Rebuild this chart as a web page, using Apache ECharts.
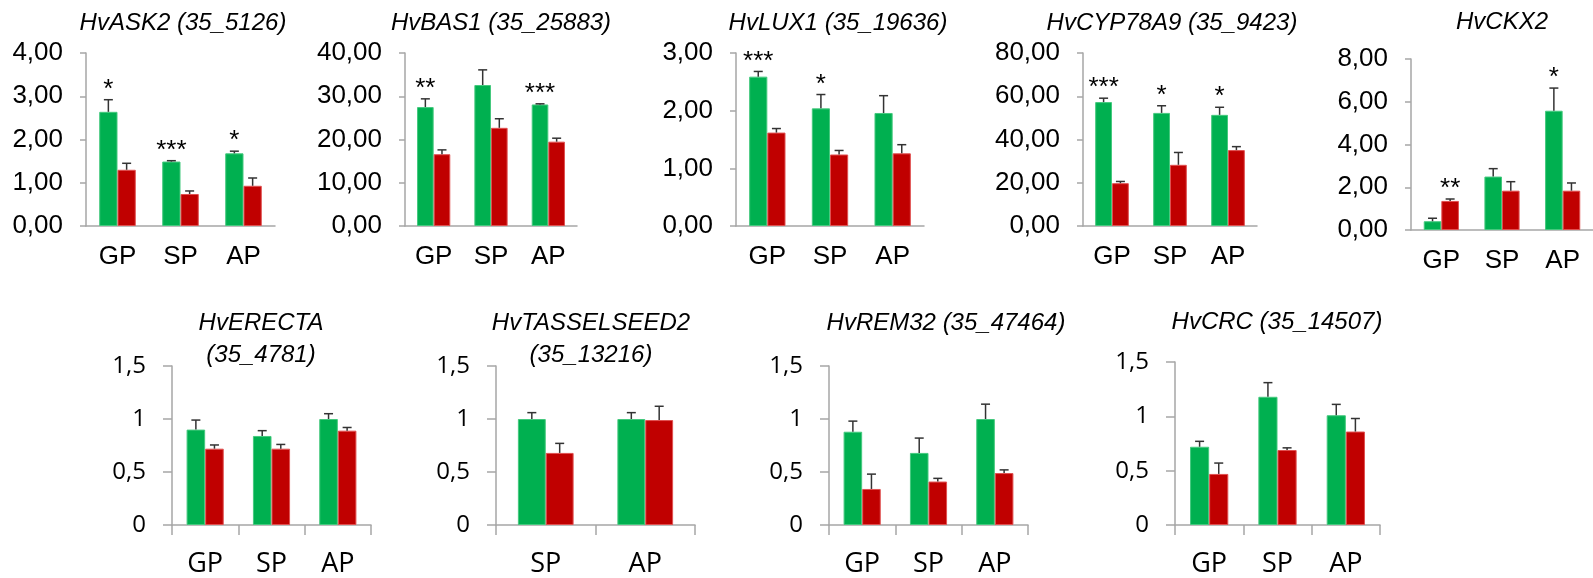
<!DOCTYPE html>
<html><head><meta charset="utf-8">
<script src="https://cdn.jsdelivr.net/npm/echarts@6/dist/echarts.min.js"></script>
<style>html,body{margin:0;padding:0;background:#fff}#c{width:1593px;height:578px}</style>
</head><body><div id="c"></div>
<script>
// ---------- data ----------
const panelTitles = [
  'HvASK2 (35_5126)', 'HvBAS1 (35_25883)', 'HvLUX1 (35_19636)', 'HvCYP78A9 (35_9423)', 'HvCKX2',
  'HvERECTA\n(35_4781)', 'HvTASSELSEED2\n(35_13216)', 'HvREM32 (35_47464)', 'HvCRC (35_14507)'
];
const categories3 = ['GP', 'SP', 'AP'];
const categories2 = ['SP', 'AP'];
const panelCategories = [categories3, categories3, categories3, categories3, categories3,
                         categories3, categories2, categories3, categories3];
const yMax = [4, 40, 3, 80, 8, 1.5, 1.5, 1.5, 1.5];
const yInterval = [1, 10, 1, 20, 2, 0.5, 0.5, 0.5, 0.5];
const greenValues = [
  [2.64, 1.49, 1.68], [27.5, 32.6, 28.1], [2.59, 2.04, 1.96], [57.3, 52.3, 51.4], [0.41, 2.50, 5.58],
  [0.90, 0.84, 1.00], [1.00, 1.00], [0.88, 0.68, 1.00], [0.72, 1.18, 1.01]
];
const greenErrors = [
  [0.28, 0.02, 0.05], [1.9, 3.5, 0.15], [0.09, 0.24, 0.30], [1.8, 3.3, 3.5], [0.14, 0.37, 1.06],
  [0.09, 0.05, 0.05], [0.06, 0.06], [0.10, 0.14, 0.14], [0.05, 0.13, 0.10]
];
const redValues = [
  [1.30, 0.74, 0.93], [16.6, 22.7, 19.5], [1.62, 1.24, 1.26], [19.8, 28.3, 35.1], [1.36, 1.84, 1.84],
  [0.72, 0.72, 0.89], [0.68, 0.99], [0.34, 0.41, 0.49], [0.47, 0.69, 0.86]
];
const redErrors = [
  [0.15, 0.07, 0.18], [1.0, 2.1, 0.8], [0.07, 0.07, 0.15], [0.8, 5.7, 1.6], [0.09, 0.42, 0.36],
  [0.035, 0.04, 0.03], [0.09, 0.13], [0.14, 0.03, 0.03], [0.10, 0.02, 0.12]
];
const greenStars = [
  ['*', '***', '*'], ['**', '', '***'], ['***', '*', ''], ['***', '*', '*'], ['', '', '*'],
  ['', '', ''], ['', ''], ['', '', ''], ['', '', '']
];
const redStars = [
  ['', '', ''], ['', '', ''], ['', '', ''], ['', '', ''], ['**', '', ''],
  ['', '', ''], ['', ''], ['', '', ''], ['', '', '']
];

// ---------- layout ----------
const gridBoxes = [
  {left: 86, top: 53, width: 189, height: 173},
  {left: 405, top: 53, width: 172, height: 173},
  {left: 736, top: 53, width: 188, height: 173},
  {left: 1083, top: 53, width: 174, height: 173},
  {left: 1411, top: 59, width: 189, height: 171},
  {left: 172, top: 366, width: 199, height: 162},
  {left: 496, top: 366, width: 199, height: 162},
  {left: 829, top: 366, width: 199, height: 162},
  {left: 1175, top: 362, width: 205, height: 169}
];
const titleCenters = [[183, 23], [501, 23], [838, 23], [1172, 23], [1502, 22],
                      [261, 339], [591, 339], [946, 323], [1277, 322]];

const GREEN = '#00B050', RED = '#C00000', AXIS = '#A6A6A6';
const ARIAL = 'Liberation Sans, Arial, sans-serif';
const CAL = 'Open Sans, Lato, sans-serif';

const grid = [], xAxis = [], yAxis = [], series = [], title = [];
for (let i = 0; i < 9; i++) {
  const bottom = i >= 5;
  const frac = bottom ? 0.28 : 0.29;
  grid.push(Object.assign({containLabel: false}, gridBoxes[i]));
  title.push({
    text: panelTitles[i], left: titleCenters[i][0], top: titleCenters[i][1] - (bottom && i < 7 ? 32 : 14),
    textAlign: 'center', padding: 0,
    textStyle: {fontFamily: ARIAL, fontStyle: 'italic', fontWeight: 'normal', fontSize: 24,
                lineHeight: bottom && i < 7 ? 32 : 28, color: '#000'}
  });
  xAxis.push({
    type: 'category', gridIndex: i, data: panelCategories[i],
    axisLine: {show: true, lineStyle: {color: AXIS, width: 1.5}},
    axisTick: {show: bottom, length: 10, lineStyle: {color: AXIS, width: 1.5}},
    axisLabel: {fontFamily: bottom ? CAL : ARIAL, fontSize: bottom ? 27 : 26, color: '#000',
                margin: bottom ? 26 : 18}
  });
  yAxis.push({
    type: 'value', gridIndex: i, min: 0, max: yMax[i], interval: yInterval[i],
    splitLine: {show: false},
    axisLine: {show: true, lineStyle: {color: AXIS, width: 1.5}},
    axisTick: {show: true, length: bottom ? 9 : 6, lineStyle: {color: AXIS, width: 1.5}},
    axisLabel: {
      fontFamily: bottom ? CAL : ARIAL, fontSize: bottom ? 24 : 26, color: '#000', margin: bottom ? 26 : 23,
      formatter: bottom ? (v => String(v).replace('.', ',')) : (v => v.toFixed(2).replace('.', ','))
    }
  });
  series.push({
    type: 'bar', xAxisIndex: i, yAxisIndex: i, data: greenValues[i], barWidth: (frac * 100) + '%', barGap: '0%',
    itemStyle: {color: GREEN, borderColor: '#45C97E', borderWidth: 1}, silent: true
  });
  series.push({
    type: 'bar', xAxisIndex: i, yAxisIndex: i, data: redValues[i], barWidth: (frac * 100) + '%', barGap: '0%',
    itemStyle: {color: RED, borderColor: '#E05050', borderWidth: 1}, silent: true
  });
  const errData = [], stars = [];
  panelCategories[i].forEach((c, j) => {
    errData.push([j, greenValues[i][j], greenErrors[i][j], 0]); stars.push(greenStars[i][j]);
    errData.push([j, redValues[i][j], redErrors[i][j], 1]); stars.push(redStars[i][j]);
  });
  series.push({
    type: 'custom', xAxisIndex: i, yAxisIndex: i, data: errData, z: 5, silent: true,
    renderItem: function (params, api) {
      const j = api.value(0), v = api.value(1), e = api.value(2), side = api.value(3);
      const cw = api.size([1, 0])[0];
      const bw = cw * frac;
      const p0 = api.coord([j, v]);
      const x = p0[0] + (side === 0 ? -bw / 2 : bw / 2);
      const y1 = api.coord([j, v + e])[1];
      const ls = {stroke: '#333', lineWidth: 1.5};
      const children = [
        {type: 'line', shape: {x1: x, y1: p0[1], x2: x, y2: y1}, style: ls},
        {type: 'line', shape: {x1: x - 4.5, y1: y1, x2: x + 4.5, y2: y1}, style: ls}
      ];
      const s = stars[params.dataIndex];
      if (s) {
        children.push({type: 'text', x: x, y: y1 + 3,
          style: {text: s, fontFamily: ARIAL, fontSize: 26, fill: '#000', align: 'center', verticalAlign: 'bottom'}});
      }
      return {type: 'group', children: children};
    }
  });
}

const chart = echarts.init(document.getElementById('c'), null, {renderer: 'canvas'});
chart.setOption({animation: false, backgroundColor: '#fff', title, grid, xAxis, yAxis, series});
</script>
</body></html>
